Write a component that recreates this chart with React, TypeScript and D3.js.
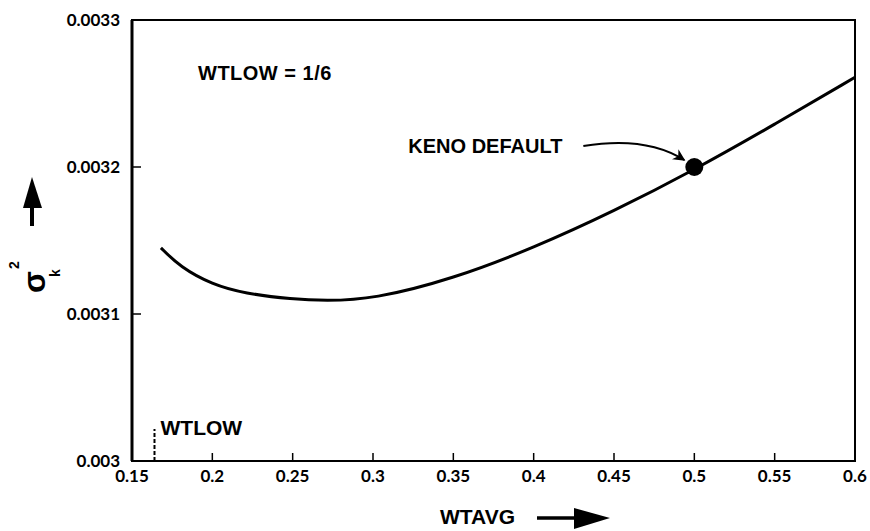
import { useEffect, useRef } from 'react';
import * as d3 from 'd3';

// curve: WTAVG vs sigma_k^2
const wtavg = [0.168, 0.18, 0.2, 0.22, 0.25, 0.27, 0.3, 0.35, 0.4, 0.45, 0.5, 0.55, 0.6];
const sigma2 = [0.003145, 0.003132, 0.00312, 0.003114, 0.00311, 0.003109, 0.00311, 0.003124, 0.003145, 0.00317, 0.003198, 0.003229, 0.003261];

const xTicks = [0.15, 0.2, 0.25, 0.3, 0.35, 0.4, 0.45, 0.5, 0.55, 0.6];
const xTickLabels = ['0.15', '0.2', '0.25', '0.3', '0.35', '0.4', '0.45', '0.5', '0.55', '0.6'];
const yTicks = [0.003, 0.0031, 0.0032, 0.0033];
const yTickLabels = ['0.003', '0.0031', '0.0032', '0.0033'];

const kenoDefault = { x: 0.5, y: 0.0032 };
const wtlow = 0.164;

const App = () => {
  const svgRef = useRef<SVGSVGElement>(null);

  useEffect(() => {
    const width = 870;
    const height = 531;
    const left = 132;
    const right = 855;
    const top = 20;
    const bottom = 461;

    const svg = d3.select(svgRef.current);
    svg.selectAll('*').remove();
    svg.attr('width', width).attr('height', height);

    const x = d3.scaleLinear().domain([0.15, 0.6]).range([left, right]);
    const y = d3.scaleLinear().domain([0.003, 0.0033]).range([bottom, top]);

    const sans = '"Liberation Sans", Arial, sans-serif';
    const tickFont = 'Lato, "Liberation Sans", sans-serif';

    svg.append('defs')
      .append('marker')
      .attr('id', 'head')
      .attr('viewBox', '0 0 10 10')
      .attr('refX', 9)
      .attr('refY', 5)
      .attr('markerWidth', 15)
      .attr('markerHeight', 12)
      .attr('markerUnits', 'userSpaceOnUse')
      .attr('orient', 'auto')
      .append('path')
      .attr('d', 'M0,0 L10,5 L0,10 L3,5 Z')
      .attr('fill', '#000');

    // frame
    svg.append('rect')
      .attr('x', left)
      .attr('y', top)
      .attr('width', right - left)
      .attr('height', bottom - top)
      .attr('fill', 'none')
      .attr('stroke', '#000')
      .attr('stroke-width', 2);
    svg.append('line')
      .attr('x1', left).attr('x2', left)
      .attr('y1', top).attr('y2', bottom)
      .attr('stroke', '#000').attr('stroke-width', 3);

    // x ticks (inward)
    const xt = svg.append('g');
    xTicks.forEach((t, i) => {
      if (i > 0 && i < xTicks.length - 1) {
        xt.append('line')
          .attr('x1', x(t)).attr('x2', x(t))
          .attr('y1', bottom).attr('y2', bottom - 8)
          .attr('stroke', '#000').attr('stroke-width', 1.5);
      }
      xt.append('text')
        .attr('x', x(t))
        .attr('y', bottom + 21)
        .attr('text-anchor', 'middle')
        .style('font-family', tickFont)
        .style('font-weight', 'bold')
        .style('font-size', '17px')
        .text(xTickLabels[i]);
    });

    // y ticks (inward)
    const yt = svg.append('g');
    yTicks.forEach((t, i) => {
      if (i > 0 && i < yTicks.length - 1) {
        yt.append('line')
          .attr('x1', left).attr('x2', left + 9)
          .attr('y1', y(t)).attr('y2', y(t))
          .attr('stroke', '#000').attr('stroke-width', 1.5);
      }
      yt.append('text')
        .attr('x', 120)
        .attr('y', y(t) + 6)
        .attr('text-anchor', 'end')
        .style('font-family', tickFont)
        .style('font-weight', 'bold')
        .style('font-size', '17px')
        .text(yTickLabels[i]);
    });

    // curve
    const pts = wtavg.map((d, i) => [d, sigma2[i]] as [number, number]);
    const line = d3.line<[number, number]>()
      .x(d => x(d[0]))
      .y(d => y(d[1]))
      .curve(d3.curveBasis);
    svg.append('path')
      .attr('d', line(pts))
      .attr('fill', 'none')
      .attr('stroke', '#000')
      .attr('stroke-width', 3);

    // KENO default point
    svg.append('circle')
      .attr('cx', x(kenoDefault.x))
      .attr('cy', y(kenoDefault.y))
      .attr('r', 9)
      .attr('fill', '#000');

    const kx = x(kenoDefault.x);
    const ky = y(kenoDefault.y);
    svg.append('text')
      .attr('x', kx - 286)
      .attr('y', ky - 14)
      .style('font-family', sans)
      .style('font-weight', 'bold')
      .style('font-size', '20px')
      .text('KENO DEFAULT');
    svg.append('path')
      .attr('d', `M${kx - 111},${ky - 21} C${kx - 75},${ky - 27} ${kx - 40},${ky - 26} ${kx - 10},${ky - 7}`)
      .attr('fill', 'none')
      .attr('stroke', '#000')
      .attr('stroke-width', 2)
      .attr('marker-end', 'url(#head)');

    // annotation
    svg.append('text')
      .attr('x', 198)
      .attr('y', 80)
      .style('font-family', sans)
      .style('font-weight', 'bold')
      .style('font-size', '20px')
      .style('letter-spacing', '0.5px')
      .text('WTLOW = 1/6');

    // WTLOW marker
    svg.append('line')
      .attr('x1', x(wtlow)).attr('x2', x(wtlow))
      .attr('y1', bottom).attr('y2', bottom - 32)
      .attr('stroke', '#000')
      .attr('stroke-width', 2)
      .attr('stroke-dasharray', '4,2');
    svg.append('text')
      .attr('x', x(wtlow) + 6)
      .attr('y', bottom - 26)
      .style('font-family', sans)
      .style('font-weight', 'bold')
      .style('font-size', '21px')
      .text('WTLOW');

    // x axis title + arrow
    svg.append('text')
      .attr('x', 440)
      .attr('y', 524)
      .style('font-family', sans)
      .style('font-weight', 'bold')
      .style('font-size', '21px')
      .text('WTAVG');
    svg.append('line')
      .attr('x1', 537).attr('x2', 580)
      .attr('y1', 518).attr('y2', 518)
      .attr('stroke', '#000').attr('stroke-width', 3.5);
    svg.append('path')
      .attr('d', 'M574,508 L610,518 L574,529 Z')
      .attr('fill', '#000');

    // y axis title + arrow
    const yl = svg.append('g').attr('transform', 'translate(45,293) rotate(-90)');
    yl.append('text')
      .attr('x', 0).attr('y', 0)
      .style('font-family', sans)
      .style('font-weight', 'bold')
      .style('font-size', '32px')
      .text('σ');
    yl.append('text')
      .attr('x', 24).attr('y', -26)
      .style('font-family', sans)
      .style('font-weight', 'bold')
      .style('font-size', '14px')
      .text('2');
    yl.append('text')
      .attr('x', 16).attr('y', 15)
      .style('font-family', sans)
      .style('font-weight', 'bold')
      .style('font-size', '14px')
      .text('k');

    svg.append('line')
      .attr('x1', 32).attr('x2', 32)
      .attr('y1', 226).attr('y2', 200)
      .attr('stroke', '#000').attr('stroke-width', 4);
    svg.append('path')
      .attr('d', 'M23,208 L32,177 L42,208 Z')
      .attr('fill', '#000');
  }, []);

  return (
    <div style={{ position: 'absolute', left: 0, top: 0, background: '#fff' }}>
      <svg ref={svgRef} />
    </div>
  );
};

export default App;
